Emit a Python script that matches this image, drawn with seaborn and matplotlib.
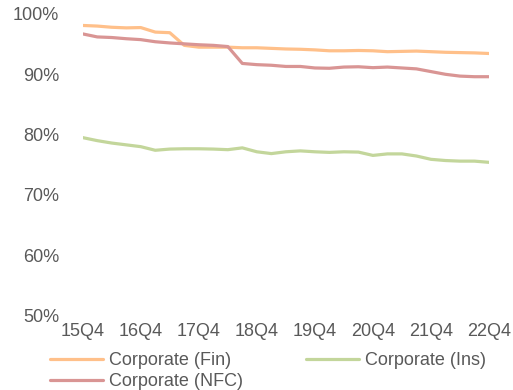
import matplotlib
matplotlib.use("Agg")
import matplotlib.pyplot as plt
import seaborn as sns
import pandas as pd
import numpy as np

quarters = [f"{y}Q{q}" for y, q in
            [(15, 4)] + [(yy, qq) for yy in range(16, 23) for qq in (1, 2, 3, 4)]]
tick_labels = ["15Q4", "16Q4", "17Q4", "18Q4", "19Q4", "20Q4", "21Q4", "22Q4"]

fin = [98.1, 98.0, 97.8, 97.7, 97.75, 97.0, 96.9, 94.8, 94.5, 94.5,
       94.5, 94.4, 94.4, 94.3, 94.2, 94.15, 94.05, 93.9, 93.9, 93.95,
       93.9, 93.75, 93.8, 93.85, 93.75, 93.65, 93.6, 93.55, 93.45]
ins = [79.5, 79.0, 78.6, 78.3, 78.0, 77.4, 77.6, 77.65, 77.65, 77.6,
       77.5, 77.8, 77.15, 76.85, 77.15, 77.3, 77.15, 77.05, 77.15, 77.1,
       76.55, 76.8, 76.8, 76.45, 75.9, 75.7, 75.6, 75.6, 75.4]
nfc = [96.7, 96.2, 96.1, 95.9, 95.75, 95.4, 95.2, 95.05, 94.9, 94.8,
       94.6, 91.8, 91.6, 91.5, 91.3, 91.3, 91.05, 91.0, 91.2, 91.25,
       91.1, 91.2, 91.05, 90.9, 90.45, 90.0, 89.7, 89.6, 89.6]

series_names = ["Corporate (Fin)", "Corporate (Ins)", "Corporate (NFC)"]
colors = ["#FFC08A", "#C3D69B", "#D99594"]

idx = np.arange(len(quarters))
df = pd.concat([
    pd.DataFrame({"idx": idx, "quarter": quarters, "value": vals, "series": name})
    for name, vals in zip(series_names, [fin, ins, nfc])
])

sns.set_style("white")
plt.rcParams["font.family"] = ["Liberation Sans", "DejaVu Sans"]

FS = 13
fig = plt.figure(figsize=(5.13, 3.90), dpi=100)
ax = fig.add_axes([82.7 / 513, 1 - 315.5 / 390, (489 - 82.7) / 513, (315.5 - 14) / 390])

sns.lineplot(data=df, x="idx", y="value", hue="series", hue_order=series_names,
             palette=colors, linewidth=2.3, ax=ax, legend=False)

ax.set_xlim(0, len(quarters) - 1)
ax.set_ylim(50, 100)
ax.set_xticks([quarters.index(t) for t in tick_labels])
ax.set_xticklabels(tick_labels)
ax.set_yticks([50, 60, 70, 80, 90, 100])
ax.set_yticklabels([f"{v}%" for v in [50, 60, 70, 80, 90, 100]])
ax.tick_params(axis="y", length=0, pad=17, labelsize=FS, labelcolor="#595959")
ax.tick_params(axis="x", length=0, pad=5.5, labelsize=FS, labelcolor="#595959")
ax.set_xlabel("")
ax.set_ylabel("")
for s in ax.spines.values():
    s.set_visible(False)
ax.grid(False)

handles = [plt.Line2D([], [], color=c, linewidth=2.3) for c in colors]
order = [0, 2, 1]
leg = fig.legend([handles[i] for i in order], [series_names[i] for i in order],
                 ncol=2, loc="upper left", bbox_to_anchor=(50 / 513, 1 - 352 / 390),
                 frameon=False, fontsize=FS, handlelength=2.95, handletextpad=0.3,
                 columnspacing=3.5, labelspacing=0.22, borderaxespad=0, borderpad=0)
for t in leg.get_texts():
    t.set_color("#595959")

fig.savefig("out.png", dpi=100)
